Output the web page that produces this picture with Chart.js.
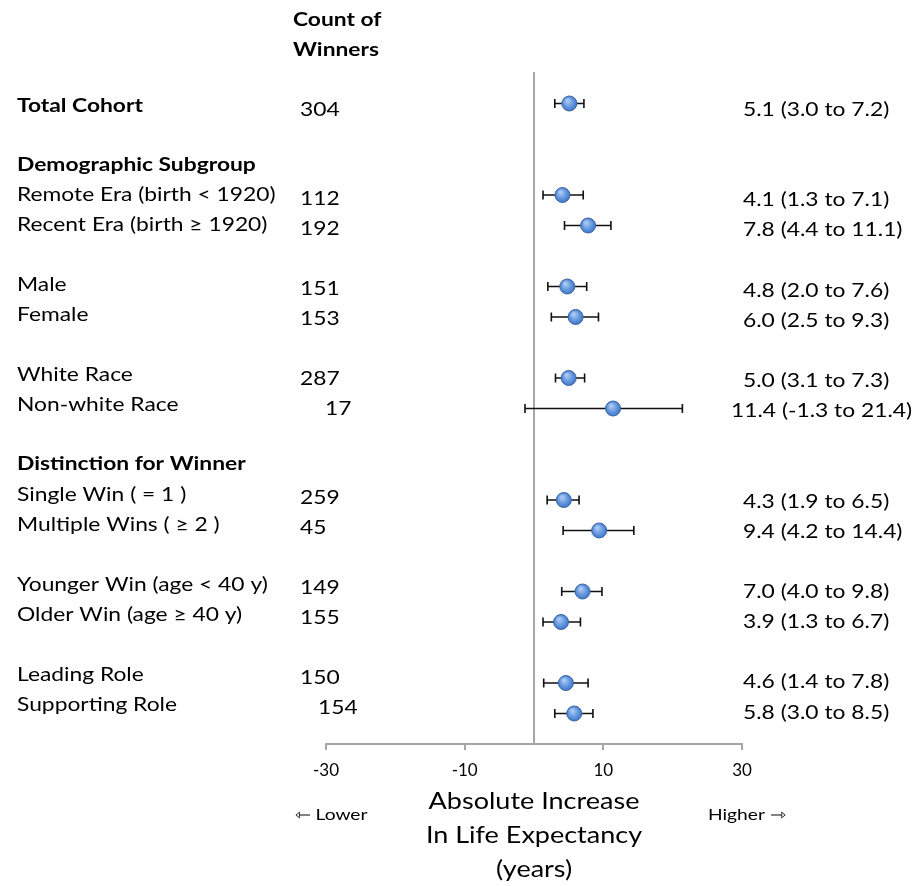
<!DOCTYPE html>
<html>
<head>
<meta charset="utf-8">
<script src="https://cdn.jsdelivr.net/npm/chart.js@4/dist/chart.umd.min.js"></script>
<style>
  html, body { margin: 0; padding: 0; background: #ffffff; }
  #wrap { width: 917px; height: 886px; position: relative; }
</style>
</head>
<body>
<div id="wrap"><canvas id="c" width="917" height="886"></canvas></div>
<script>
// ---- Data ----
const labels = [
  'Total Cohort',
  'Remote Era (birth < 1920)',
  'Recent Era (birth \u2265 1920)',
  'Male',
  'Female',
  'White Race',
  'Non-white Race',
  'Single Win ( = 1 )',
  'Multiple Wins ( \u2265 2 )',
  'Younger Win (age < 40 y)',
  'Older Win (age \u2265 40 y)',
  'Leading Role',
  'Supporting Role'
];
const rowIndex = [0, 3, 4, 6, 7, 9, 10, 13, 14, 16, 17, 19, 20];
const counts   = [304, 112, 192, 151, 153, 287, 17, 259, 45, 149, 155, 150, 154];
const estimate = [5.1, 4.1, 7.8, 4.8, 6.0, 5.0, 11.4, 4.3, 9.4, 7.0, 3.9, 4.6, 5.8];
const lower    = [3.0, 1.3, 4.4, 2.0, 2.5, 3.1, -1.3, 1.9, 4.2, 4.0, 1.3, 1.4, 3.0];
const upper    = [7.2, 7.1, 11.1, 7.6, 9.3, 7.3, 21.4, 6.5, 14.4, 9.8, 6.7, 7.8, 8.5];
const boldLabels = ['Total Cohort'];
const sectionHeaders = ['Demographic Subgroup', 'Distinction for Winner'];
const sectionRows = [2, 12];
const xTicks = [-30, -10, 10, 30];
const countHeader = ['Count of', 'Winners'];
const xTitle = ['Absolute Increase', 'In Life Expectancy', '(years)'];
const lowerText = '\u21FD Lower';
const higherText = 'Higher \u21FE';

// ---- layout (not data) ----
const FONT = 'Lato, "Open Sans", sans-serif';
const SX = 1.2;            // horizontal text stretch, like the reference
const countNudge = {6: 25, 12: 18};
const ciNudge = {6: -12};
// text rows drift slightly from the marker rows in the reference
const labelOffset = 2, labelPitch = 29.95 / 30.5;
const countOffset = 6, countPitch = 29.9 / 30.5;
const ciOffset = 6, ciPitch = 30.15 / 30.5;

const points = estimate.map((v, i) => ({x: v, y: rowIndex[i]}));

function drawText(ctx, text, x, y, font, align) {
  ctx.save();
  ctx.font = font;
  ctx.textAlign = align || 'left';
  ctx.textBaseline = 'middle';
  ctx.translate(x, y);
  ctx.scale(SX, 1);
  ctx.fillText(text, 0, 0);
  ctx.restore();
}

const errorBars = {
  id: 'errorBars',
  beforeDatasetsDraw(chart) {
    const {ctx, scales: {x, y}} = chart;
    ctx.save();
    ctx.strokeStyle = '#111111';
    ctx.lineWidth = 1.6;
    lower.forEach((lo, i) => {
      const py = y.getPixelForValue(rowIndex[i]);
      const x1 = x.getPixelForValue(lo), x2 = x.getPixelForValue(upper[i]);
      ctx.beginPath();
      ctx.moveTo(x1, py); ctx.lineTo(x2, py);
      ctx.moveTo(x1, py - 4.5); ctx.lineTo(x1, py + 4.5);
      ctx.moveTo(x2, py - 4.5); ctx.lineTo(x2, py + 4.5);
      ctx.stroke();
    });
    ctx.restore();
  }
};

const textPlugin = {
  id: 'texts',
  afterDraw(chart) {
    const {ctx, scales: {x, y}, chartArea} = chart;
    const y0 = y.getPixelForValue(0);
    const step = y.getPixelForValue(1) - y0;
    ctx.save();
    ctx.fillStyle = '#000000';
    const regular = '19px ' + FONT, bold = 'bold 19px ' + FONT;
    labels.forEach((lab, i) => {
      const r = rowIndex[i];
      drawText(ctx, lab, 17, y0 + labelOffset + r * step * labelPitch,
               boldLabels.includes(lab) ? bold : regular);
      drawText(ctx, String(counts[i]), 300 + (countNudge[i] || 0),
               y0 + countOffset + r * step * countPitch, regular);
      const ci = estimate[i].toFixed(1) + ' (' + lower[i].toFixed(1) + ' to ' + upper[i].toFixed(1) + ')';
      drawText(ctx, ci, 743 + (ciNudge[i] || 0), y0 + ciOffset + r * step * ciPitch, regular);
    });
    sectionHeaders.forEach((h, i) => {
      drawText(ctx, h, 17, y0 + labelOffset - 1 + sectionRows[i] * step * labelPitch, bold);
    });
    drawText(ctx, countHeader[0], 293, chartArea.top - 53, bold);
    drawText(ctx, countHeader[1], 293, chartArea.top - 23, bold);
    const cx = x.getPixelForValue(0);
    xTitle.forEach((t, i) => drawText(ctx, t, cx, chartArea.bottom + 58 + i * 34, '22.5px ' + FONT, 'center'));
    drawText(ctx, lowerText, 295, chartArea.bottom + 71, '16px ' + FONT);
    drawText(ctx, higherText, 708, chartArea.bottom + 71, '16px ' + FONT);
    ctx.restore();
  }
};

function pointFill(context) {
  const chart = context.chart;
  const raw = context.raw;
  if (!raw || !chart.chartArea) return '#5b8fd9';
  const px = chart.scales.x.getPixelForValue(raw.x);
  const py = chart.scales.y.getPixelForValue(raw.y);
  const g = chart.ctx.createRadialGradient(px - 2, py - 3, 1, px, py, 8);
  g.addColorStop(0, '#a9c8f2');
  g.addColorStop(0.6, '#5f93dc');
  g.addColorStop(1, '#3f72c2');
  return g;
}

new Chart(document.getElementById('c'), {
  type: 'scatter',
  data: {
    datasets: [{
      data: points,
      pointRadius: 7.5,
      pointHoverRadius: 7.5,
      pointBackgroundColor: pointFill,
      pointBorderColor: '#3a66a8',
      pointBorderWidth: 1
    }]
  },
  plugins: [errorBars, textPlugin],
  options: {
    responsive: false,
    animation: false,
    events: [],
    layout: { padding: { left: 326, right: 175, top: 73, bottom: 0 } },
    plugins: { legend: { display: false }, tooltip: { enabled: false } },
    scales: {
      x: {
        type: 'linear',
        min: -30, max: 30,
        afterBuildTicks: (scale) => { scale.ticks = xTicks.map(v => ({value: v})); },
        afterFit: (scale) => { scale.height = 142; },
        border: { display: true, color: '#a6a6a6', width: 2 },
        grid: { drawOnChartArea: false, drawTicks: true, tickLength: 6, color: '#a6a6a6', lineWidth: 2 },
        ticks: { color: '#000000', font: { family: FONT, size: 17 }, padding: 10, maxRotation: 0 }
      },
      y: {
        type: 'linear',
        position: { x: 0 },
        reverse: true,
        min: -1, max: 21,
        grid: { display: false },
        border: { display: true, color: '#a6a6a6', width: 2 },
        ticks: { display: false }
      }
    }
  }
});
</script>
</body>
</html>
